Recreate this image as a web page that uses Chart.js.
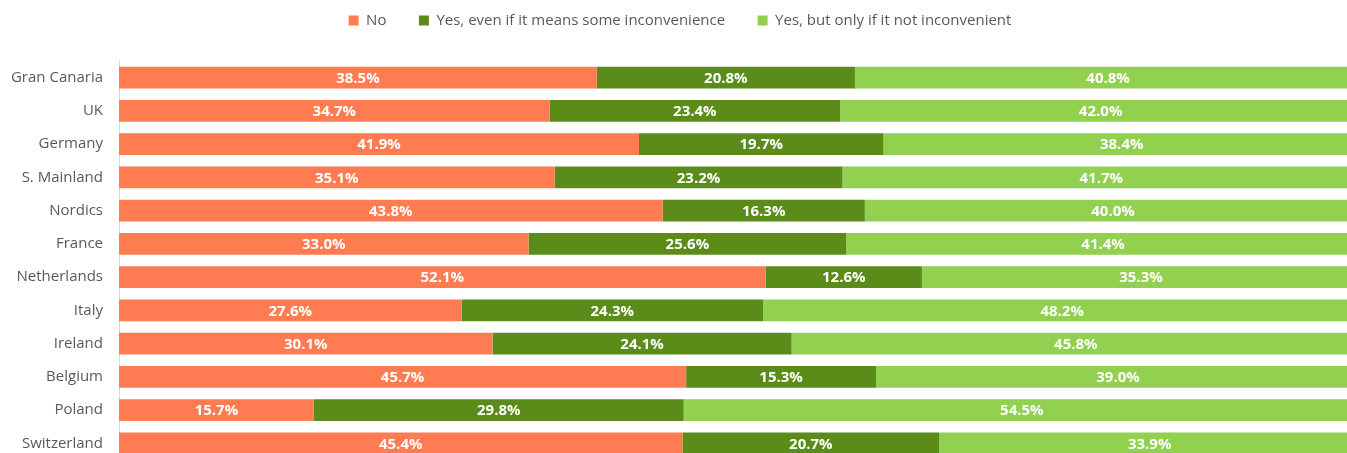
<!DOCTYPE html>
<html>
<head>
<meta charset="utf-8">
<script src="https://cdn.jsdelivr.net/npm/chart.js@4"></script>
<style>
  html, body { margin: 0; padding: 0; background: #fff; overflow: hidden; }
</style>
</head>
<body>
<canvas id="chart" width="1360" height="485"></canvas>
<script>
// ---------- Data ----------
const regions = [
  'Gran Canaria', 'UK', 'Germany', 'S. Mainland', 'Nordics', 'France',
  'Netherlands', 'Italy', 'Ireland', 'Belgium', 'Poland', 'Switzerland',
];
const noVals      = [38.5, 34.7, 41.9, 35.1, 43.8, 33.0, 52.1, 27.6, 30.1, 45.7, 15.7, 45.4];
const yesEvenVals = [20.8, 23.4, 19.7, 23.2, 16.3, 25.6, 12.6, 24.3, 24.1, 15.3, 29.8, 20.7];
const yesOnlyVals = [40.8, 42.0, 38.4, 41.7, 40.0, 41.4, 35.3, 48.2, 45.8, 39.0, 54.5, 33.9];

const seriesNames = [
  'No',
  'Yes, even if it means some inconvenience',
  'Yes, but only if it not inconvenient',
];
const COLORS = ['#FF7C52', '#5B8C1A', '#92D050'];

const FONT = "'Open Sans', sans-serif";

// ---------- Plugins ----------
// white value labels in the middle of each segment
const barLabels = {
  id: 'barLabels',
  afterDatasetsDraw(chart) {
    const { ctx } = chart;
    ctx.save();
    ctx.fillStyle = '#fff';
    ctx.font = `bold 15px ${FONT}`;
    ctx.textAlign = 'center';
    ctx.textBaseline = 'middle';
    chart.data.datasets.forEach((ds, i) => {
      chart.getDatasetMeta(i).data.forEach((bar, j) => {
        const { x, y, base } = bar.getProps(['x', 'y', 'base'], true);
        ctx.fillText(ds.data[j].toFixed(1) + '%', (x + base) / 2, y + 1);
      });
    });
    ctx.restore();
  },
};

// fixed legend block height so the bars start where they should
const legendSpace = {
  id: 'legendSpace',
  beforeInit(chart) {
    const fit = chart.legend.fit;
    chart.legend.fit = function () {
      fit.call(this);
      this.height = 61;
    };
  },
};

// ---------- Chart ----------
new Chart(document.getElementById('chart'), {
  type: 'bar',
  data: {
    labels: regions,
    datasets: [noVals, yesEvenVals, yesOnlyVals].map((vals, i) => ({
      label: seriesNames[i],
      data: vals,
      backgroundColor: COLORS[i],
      borderWidth: 0,
      categoryPercentage: 1,
      barPercentage: 0.66,
    })),
  },
  options: {
    indexAxis: 'y',
    responsive: false,
    animation: false,
    layout: { padding: 0, autoPadding: false },
    plugins: {
      legend: {
        position: 'top',
        labels: {
          color: '#595959',
          font: { family: FONT, size: 15 },
          boxWidth: 10,
          boxHeight: 10,
          padding: 13,
          // extra gap after the first two entries
          generateLabels: (chart) => {
            const items = Chart.defaults.plugins.legend.labels.generateLabels(chart);
            items.forEach((it, i) => {
              if (i < items.length - 1) it.text += '\u00a0\u00a0\u00a0\u00a0\u00a0';
            });
            return items;
          },
        },
      },
      tooltip: { enabled: false },
    },
    scales: {
      x: {
        stacked: true,
        display: false,
        min: 0,
        max: 100,
      },
      y: {
        stacked: true,
        afterFit: (s) => { s.width = 119; },
        grid: { display: false, drawTicks: false },
        border: { display: true, color: '#d9d9d9', width: 1 },
        ticks: {
          color: '#595959',
          font: { family: FONT, size: 15 },
          padding: 16,
        },
      },
    },
  },
  plugins: [barLabels, legendSpace],
});
</script>
</body>
</html>
